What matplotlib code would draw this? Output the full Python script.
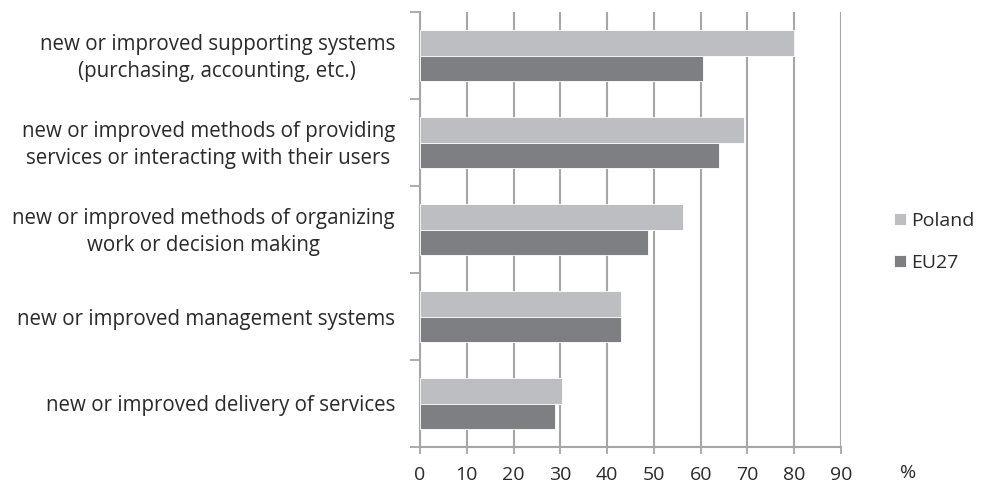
import numpy as np
import matplotlib.pyplot as plt
import matplotlib.transforms as mtransforms

plt.rcParams['font.family'] = ['Open Sans', 'DejaVu Sans']

categories = [
    'new or improved delivery of services',
    'new or improved management systems',
    'new or improved methods of organizing\nwork or decision making',
    'new or improved methods of providing\nservices or interacting with their users',
    'new or improved supporting systems\n(purchasing, accounting, etc.)',
]
poland = [30.4, 43.0, 56.2, 69.3, 80.0]
eu27 = [28.9, 43.0, 48.7, 64.0, 60.5]
xticks = [0, 10, 20, 30, 40, 50, 60, 70, 80, 90]

grid_c = '#a6a6a6'
fig = plt.figure(figsize=(9.82, 4.84), dpi=100)
ax = fig.add_axes([420 / 982, 1 - 447 / 484, 421 / 982, 435 / 484])

y = np.arange(len(categories))
h = 0.288
ax.barh(y + h / 2, poland, height=h, color='#bdbec2', edgecolor='white', linewidth=0.6, label='Poland', zorder=3)
ax.barh(y - h / 2, eu27, height=h, color='#7e7f83', edgecolor='white', linewidth=0.6, label='EU27', zorder=3)

ax.set_xlim(0, 90)
ax.set_ylim(-0.5, len(categories) - 0.5)
ax.set_xticks(xticks)
ax.set_xticklabels([str(t) for t in xticks], fontsize=14, color='#2a2a2a')
ax.tick_params(axis='x', length=5, width=1.3, color=grid_c, pad=9)

# category labels at band centres, ticks at band edges
ax.set_yticks(y)
ax.set_yticklabels(categories, fontsize=14.8, color='#2a2a2a', multialignment='center', linespacing=1.38)
ax.tick_params(axis='y', length=0, pad=18)
ax.set_yticks(np.arange(-0.5, len(categories), 1), minor=True)
ax.tick_params(axis='y', which='minor', length=7, width=1.3, color=grid_c)
# two-line labels sit a little higher in the original
for lab in ax.get_yticklabels():
    if '\n' in lab.get_text():
        lab.set_transform(lab.get_transform() + mtransforms.ScaledTranslation(0, 3 / 100, fig.dpi_scale_trans))

ax.xaxis.grid(True, color=grid_c, linewidth=1.5, zorder=0)
for s in ['top', 'right']:
    ax.spines[s].set_visible(False)
ax.spines['left'].set_color(grid_c)
ax.spines['left'].set_linewidth(1.5)
ax.spines['bottom'].set_color(grid_c)
ax.spines['bottom'].set_linewidth(1.5)

fig.legend(loc='center left', bbox_to_anchor=(894 / 982, 1 - 242 / 484), frameon=False,
           borderpad=0, borderaxespad=0,
           fontsize=14, handlelength=0.6, handleheight=0.6, handletextpad=0.3,
           labelspacing=1.25, labelcolor='#2a2a2a')
fig.text(908 / 982, 1 - 473 / 484, '%', fontsize=14, color='#2a2a2a', ha='center', va='center')

fig.savefig('out.png', dpi=100)
